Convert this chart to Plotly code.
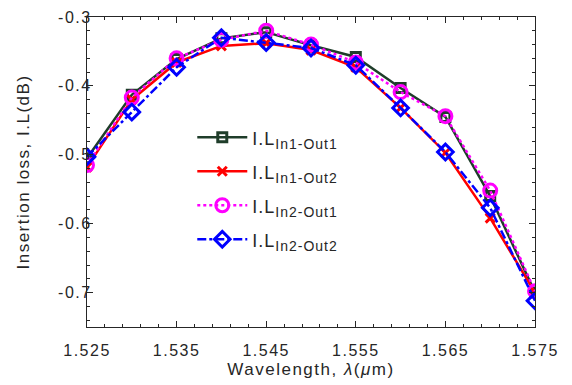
import plotly.graph_objects as go

wavelength = [1.525, 1.530, 1.535, 1.540, 1.545, 1.550, 1.555, 1.560, 1.565, 1.570, 1.575]
il_in1_out1 = [-0.505, -0.413, -0.361, -0.331, -0.322, -0.341, -0.358, -0.403, -0.445, -0.560, -0.700]
il_in1_out2 = [-0.518, -0.420, -0.366, -0.342, -0.338, -0.348, -0.373, -0.432, -0.497, -0.592, -0.700]
il_in2_out1 = [-0.515, -0.417, -0.360, -0.333, -0.320, -0.340, -0.366, -0.409, -0.444, -0.552, -0.698]
il_in2_out2 = [-0.503, -0.438, -0.373, -0.330, -0.337, -0.345, -0.370, -0.432, -0.496, -0.577, -0.712]

x_ticks = [1.525, 1.535, 1.545, 1.555, 1.565, 1.575]
x_ticklabels = ["1.525", "1.535", "1.545", "1.555", "1.565", "1.575"]
y_ticks = [-0.3, -0.4, -0.5, -0.6, -0.7]
y_ticklabels = ["-0.3", "-0.4", "-0.5", "-0.6", "-0.7"]

subs = ["In1-Out1", "In1-Out2", "In2-Out1", "In2-Out2"]
colors = ["#1f3d2a", "#ff0000", "#ff00ff", "#0000ff"]
dashes = ["solid", "solid", "dot", "dashdot"]
symbols = ["square-open", "x-thin-open", "circle-open", "diamond-open"]
sizes = [9, 9, 13, 12]
series = [il_in1_out1, il_in1_out2, il_in2_out1, il_in2_out2]

SP = "letter-spacing:1.5px"
def spaced(t):
    return f'<span style="{SP}">{t}</span>'

fig = go.Figure()
for i, (sub, c, d, s, sz, ys) in enumerate(zip(subs, colors, dashes, symbols, sizes, series)):
    name = f'<span style="letter-spacing:1px;font-size:18px">I.L</span><sub><span style="letter-spacing:1px">{sub}</span></sub>'
    fig.add_trace(go.Scatter(
        x=wavelength, y=ys, name=name, mode="lines+markers", legendgroup=f"g{i}",
        line=dict(color=c, width=2.5, dash=d),
        marker=dict(symbol=s, size=sz, color=c, line=dict(color=c, width=3)),
    ))

FONT = "Liberation Sans, Arial"
axis_common = dict(
    showline=True, linecolor="#262626", linewidth=1.2, mirror="ticks",
    ticks="inside", ticklen=6, tickcolor="#262626", showgrid=False, zeroline=False,
    tickfont=dict(family=FONT, size=16, color="#262626"), automargin=False,
)
fig.update_xaxes(
    range=[1.525, 1.575], tickvals=x_ticks,
    ticktext=[spaced(t) for t in x_ticklabels],
    ticklabelstandoff=9,
    minor=dict(ticks="inside", ticklen=3, dtick=0.002, tick0=1.525, tickcolor="#262626"),
    title=dict(text=spaced("Wavelength, <i>λ</i>(<i>μ</i>m)"), font=dict(family=FONT, size=17, color="#262626"), standoff=4),
    **axis_common,
)
fig.update_yaxes(
    range=[-0.75, -0.3], tickvals=y_ticks,
    ticktext=[spaced(t) for t in y_ticklabels],
    ticklabelstandoff=-9,
    minor=dict(ticks="inside", ticklen=3, dtick=0.02, tick0=-0.3, tickcolor="#262626"),
    title=dict(text=spaced("Insertion loss, I.L(dB)"), font=dict(family=FONT, size=17, color="#262626"), standoff=24),
    **axis_common,
)
fig.update_layout(
    width=572, height=385, margin=dict(l=87, r=37, t=17, b=58, autoexpand=False),
    paper_bgcolor="white", plot_bgcolor="white",
    font=dict(family=FONT, color="#262626"),
    legend=dict(x=0.235, y=0.675, xanchor="left", yanchor="top", bgcolor="rgba(0,0,0,0)",
                font=dict(size=20, color="#262626"), tracegroupgap=5, itemwidth=50),
)
fig.write_html("out.html")
